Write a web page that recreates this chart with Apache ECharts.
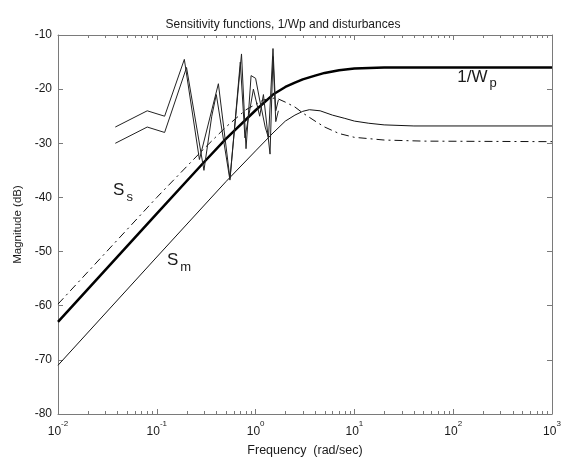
<!DOCTYPE html>
<html>
<head>
<meta charset="utf-8">
<script src="https://cdn.jsdelivr.net/npm/echarts@6/dist/echarts.min.js"></script>
<style>
  html, body { margin: 0; padding: 0; background: #fff; }
  #chart { width: 566px; height: 462px; }
</style>
</head>
<body>
<div id="chart"></div>
<script>
// 1/Wp (thick)
const wpFreq = [0.01, 0.1, 0.3, 0.5, 1, 1.5, 2, 2.5, 3, 4, 5, 7, 10, 20, 100, 1000]
const wpMag = [-63, -43, -33.5, -29.2, -23.9, -21, -19.6, -18.8, -18.2, -17.5, -17, -16.5, -16.2, -16, -16, -16]

// S_m (thin solid)
const smFreq = [0.01, 0.1, 0.5, 1, 1.5, 2, 2.5, 3, 3.5, 4.5, 6, 8, 10, 14, 20, 40, 1000]
const smMag = [-71, -51, -37.1, -31.4, -28.1, -25.9, -24.8, -24.1, -23.8, -24, -24.8, -25.4, -25.9, -26.3, -26.6, -26.8, -26.8]

// S_s (dash-dot)
const ssFreq = [0.01, 0.1, 0.3, 0.5, 0.8, 1.2, 1.6, 2, 2.5, 3, 4, 5, 7, 10, 20, 50, 1000]
const ssMag = [-59.7, -40, -31, -27, -23.8, -22, -21.6, -22.4, -23.3, -24.4, -25.9, -27, -28.2, -28.9, -29.4, -29.6, -29.7]

// disturbances
const d1Freq = [0.038, 0.08, 0.12, 0.19, 0.27, 0.42, 0.55, 0.72, 0.8, 0.9, 1.0, 1.1, 1.25, 1.35, 1.5, 1.6, 1.7]
const d1Mag = [-27, -24, -25, -14.5, -33, -19, -36.5, -13.5, -31, -17.5, -18, -22, -27, -29, -12.5, -24, -22]
const d2Freq = [0.038, 0.08, 0.12, 0.2, 0.3, 0.36, 0.4, 0.55, 0.7, 0.78, 0.95, 1.1, 1.2, 1.4, 1.5, 1.6, 1.7]
const d2Mag = [-30, -27, -28, -16, -35, -25, -21, -36.8, -15, -29, -20, -25, -21, -32, -14, -26, -24]

const xTicks = [0.01, 0.1, 1, 10, 100, 1000]
const yTicks = [-80, -70, -60, -50, -40, -30, -20, -10]

const axisColor = '#7a7a7a'
const textColor = '#1a1a1a'
const font = '"Liberation Sans", Arial, sans-serif'

// minor ticks of the log axis (2..9 in each decade)
const minorTicks = []
for (let e = -2; e < 3; e++) {
    for (let k = 2; k <= 9; k++) minorTicks.push(k * Math.pow(10, e))
}

const zip = (xs, ys) => xs.map((x, i) => [x, ys[i]])

const chart = echarts.init(document.getElementById('chart'))

const renderMinor = (params, api) => {
    const x = api.value(0)
    const b = api.coord([x, yTicks[0]])
    const t = api.coord([x, yTicks[yTicks.length - 1]])
    const px = Math.round(b[0]) + 0.5
    return {
        type: 'group',
        children: [
            { type: 'line', shape: { x1: px, y1: b[1], x2: px, y2: b[1] - 3 }, style: { stroke: axisColor, lineWidth: 1 } },
            { type: 'line', shape: { x1: px, y1: t[1], x2: px, y2: t[1] + 3 }, style: { stroke: axisColor, lineWidth: 1 } }
        ]
    }
}

const subLabel = (main, sub) => ({
    show: true,
    position: 'inside',
    formatter: `{a|${main}}{b|${sub}}`,
    rich: {
        a: { fontFamily: font, fontSize: 17, color: textColor, lineHeight: 22, verticalAlign: 'top' },
        b: { fontFamily: font, fontSize: 13, color: textColor, lineHeight: 14, verticalAlign: 'bottom', padding: [0, 0, 0, 2] }
    }
})

const logAxis = (pos, labels) => ({
    type: 'log',
    logBase: 10,
    position: pos,
    min: xTicks[0],
    max: xTicks[xTicks.length - 1],
    axisLine: { show: true, lineStyle: { color: axisColor, width: 1 } },
    axisTick: { show: true, inside: true, length: 5, lineStyle: { color: axisColor } },
    splitLine: { show: false },
    axisLabel: labels ? {
        show: true,
        margin: 6,
        formatter: (v) => `{b|10}{s|${Math.round(Math.log10(v))}}`,
        rich: {
            b: { fontFamily: font, fontSize: 12, color: textColor, lineHeight: 18, verticalAlign: 'bottom' },
            s: { fontFamily: font, fontSize: 8, color: textColor, lineHeight: 9, verticalAlign: 'top' }
        }
    } : { show: false }
})

const valAxis = (pos, labels) => ({
    type: 'value',
    position: pos,
    min: yTicks[0],
    max: yTicks[yTicks.length - 1],
    interval: 10,
    axisLine: { show: true, lineStyle: { color: axisColor, width: 1 } },
    axisTick: { show: true, inside: true, length: 5, lineStyle: { color: axisColor } },
    splitLine: { show: false },
    axisLabel: labels ? { show: true, margin: 6, fontFamily: font, fontSize: 12, color: textColor } : { show: false }
})

const option = {
    animation: false,
    backgroundColor: '#fff',
    title: {
        text: 'Sensitivity functions, 1/Wp and disturbances',
        left: 'center',
        top: 14,
        textStyle: { fontFamily: font, fontSize: 12, fontWeight: 'normal', color: textColor }
    },
    grid: { left: 58, right: 14, top: 35, bottom: 45 },
    xAxis: [
        Object.assign(logAxis('bottom', true), {
            name: 'Frequency  (rad/sec)',
            nameLocation: 'middle',
            nameGap: 30,
            nameTextStyle: { fontFamily: font, fontSize: 12.5, color: textColor }
        }),
        logAxis('top', false)
    ],
    yAxis: [
        Object.assign(valAxis('left', true), {
            name: 'Magnitude (dB)',
            nameLocation: 'middle',
            nameGap: 32,
            nameTextStyle: { fontFamily: font, fontSize: 11.5, color: textColor }
        }),
        valAxis('right', false)
    ],
    series: [
        {
            name: 'minor',
            type: 'custom',
            silent: true,
            renderItem: renderMinor,
            data: minorTicks.map(v => [v, yTicks[0]]),
            z: 1
        },
        {
            name: '1/Wp',
            type: 'line',
            data: zip(wpFreq, wpMag),
            symbol: 'none',
            lineStyle: { color: '#000', width: 2.5 },
            markPoint: {
                symbol: 'circle',
                symbolSize: 0,
                data: [{ coord: [174, -18.2] }],
                label: subLabel('1/W', 'p')
            },
            z: 3
        },
        {
            name: 'Sm',
            type: 'line',
            data: zip(smFreq, smMag),
            symbol: 'none',
            lineStyle: { color: '#111', width: 1 },
            markPoint: {
                symbol: 'circle',
                symbolSize: 0,
                data: [{ coord: [0.168, -52.1] }],
                label: subLabel('S', 'm')
            }
        },
        {
            name: 'Ss',
            type: 'line',
            data: zip(ssFreq, ssMag),
            symbol: 'none',
            lineStyle: { color: '#111', width: 1, type: [8, 4, 2, 4] },
            markPoint: {
                symbol: 'circle',
                symbolSize: 0,
                data: [{ coord: [0.0455, -39.1] }],
                label: subLabel('S', 's')
            }
        },
        {
            name: 'd1',
            type: 'line',
            data: zip(d1Freq, d1Mag),
            symbol: 'none',
            lineStyle: { color: '#222', width: 1 }
        },
        {
            name: 'd2',
            type: 'line',
            data: zip(d2Freq, d2Mag),
            symbol: 'none',
            lineStyle: { color: '#222', width: 1 }
        }
    ]
}

chart.setOption(option)
</script>
</body>
</html>
